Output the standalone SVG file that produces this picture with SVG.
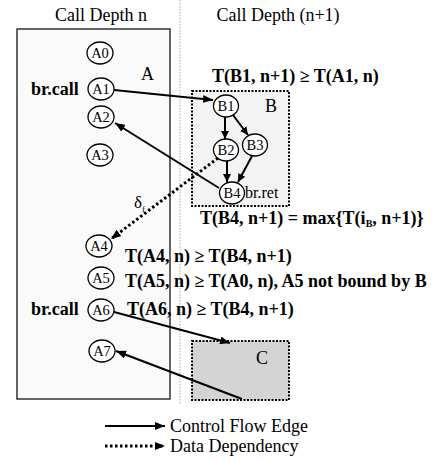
<svg xmlns="http://www.w3.org/2000/svg" width="439" height="461" viewBox="0 0 439 461">
<defs>
<marker id="ah" markerWidth="10" markerHeight="8" refX="10" refY="4" orient="auto" markerUnits="userSpaceOnUse">
<path d="M0,0 L10,4 L0,8 Z" fill="#000"/>
</marker>
<marker id="ahs" markerWidth="8" markerHeight="8" refX="8" refY="4" orient="auto" markerUnits="userSpaceOnUse">
<path d="M0,0 L8,4 L0,8 Z" fill="#000"/>
</marker>
</defs>
<style>
text,tspan{font-family:"Liberation Serif","Times New Roman",serif}
.lbl{font-size:18px}
.b{font-weight:bold;font-size:18px}
.n{font-size:14.5px;text-anchor:middle}
.nd{fill:#fff;stroke:#000;stroke-width:1.3}
.cf{stroke:#000;stroke-width:2;fill:none;marker-end:url(#ah)}
.cfs{stroke:#000;stroke-width:2;fill:none;marker-end:url(#ahs)}
.dd{stroke:#000;stroke-width:3;stroke-dasharray:2.5 2.5;fill:none;marker-end:url(#ah)}
</style>
<rect width="439" height="461" fill="#fff"/>
<g font-family="Liberation Serif, Times New Roman, serif" fill="#000">
<line x1="180" y1="0" x2="180" y2="405" stroke="#aaa" stroke-width="1" stroke-dasharray="1.5 1.5"/>
<text class="lbl" x="101" y="21" text-anchor="middle">Call Depth n</text>
<text class="lbl" x="278" y="21" text-anchor="middle">Call Depth (n+1)</text>

<g id="A">
<rect x="17" y="29" width="153" height="370" fill="#fafafa" stroke="#333" stroke-width="1.5"/>
<text x="141" y="80" font-size="18">A</text>
</g>
<g id="B">
<rect x="192" y="91" width="97" height="115" fill="#f3f3f3" stroke="#000" stroke-width="2" stroke-dasharray="2 1.5"/>
<text x="265" y="112" font-size="18">B</text>
</g>
<g id="C">
<rect x="192" y="341" width="97" height="59" fill="#d4d4d4" stroke="#000" stroke-width="2" stroke-dasharray="2 1.5"/>
<text x="256" y="364" font-size="18">C</text>
</g>

<g id="connectors">
<line class="cf" x1="114" y1="90" x2="213" y2="100"/>
<line class="cf" x1="219" y1="188" x2="115" y2="123"/>
<line class="cfs" x1="225" y1="117" x2="225" y2="139"/>
<line class="cfs" x1="233" y1="115" x2="248" y2="135"/>
<line class="cfs" x1="227" y1="161" x2="227" y2="182"/>
<line class="cfs" x1="252" y1="156" x2="238" y2="182"/>
<line class="dd" x1="218" y1="158" x2="111" y2="239"/>
<line class="cf" x1="114" y1="312" x2="230" y2="343"/>
<line class="cf" x1="242" y1="399" x2="116" y2="351"/>
</g>
<text x="134" y="208" font-size="17">δ<tspan font-size="9" dy="4">f</tspan></text>

<g id="A0"><ellipse class="nd" cx="100" cy="53" rx="13" ry="11"/><text class="n" x="100" y="58">A0</text></g>
<g id="A1"><ellipse class="nd" cx="101" cy="89" rx="13" ry="11"/><text class="n" x="101" y="94">A1</text></g>
<g id="A2"><ellipse class="nd" cx="101" cy="117" rx="13" ry="11"/><text class="n" x="101" y="122">A2</text></g>
<g id="A3"><ellipse class="nd" cx="100" cy="155" rx="13" ry="11"/><text class="n" x="100" y="160">A3</text></g>
<g id="A4"><ellipse class="nd" cx="99" cy="246" rx="13" ry="11"/><text class="n" x="99" y="251">A4</text></g>
<g id="A5"><ellipse class="nd" cx="101" cy="278" rx="13" ry="11"/><text class="n" x="101" y="283">A5</text></g>
<g id="A6"><ellipse class="nd" cx="101" cy="310" rx="13" ry="11"/><text class="n" x="101" y="315">A6</text></g>
<g id="A7"><ellipse class="nd" cx="102" cy="351" rx="13" ry="11"/><text class="n" x="102" y="356">A7</text></g>

<g id="B1"><ellipse class="nd" cx="226" cy="106" rx="12.5" ry="11"/><text class="n" x="226" y="111">B1</text></g>
<g id="B2"><ellipse class="nd" cx="226" cy="150" rx="12.5" ry="11"/><text class="n" x="226" y="155">B2</text></g>
<g id="B3"><ellipse class="nd" cx="255" cy="145" rx="12.5" ry="11"/><text class="n" x="255" y="150">B3</text></g>
<g id="B4"><ellipse class="nd" cx="232" cy="193" rx="12.5" ry="11"/><text class="n" x="232" y="198">B4</text></g>
<text x="245" y="198" font-size="16">br.ret</text>

<text class="b" x="31" y="95">br.call</text>
<text class="b" x="31" y="315">br.call</text>

<text class="b" x="212" y="82">T(B1, n+1) ≥ T(A1, n)</text>
<text class="b" x="200" y="224">T(B4, n+1) = max{T(i<tspan font-size="10" dy="3">B</tspan><tspan dy="-3">, n+1)}</tspan></text>
<text class="b" x="125" y="262">T(A4, n) ≥ T(B4, n+1)</text>
<text class="b" x="125" y="287">T(A5, n) ≥ T(A0, n), A5 not bound by B</text>
<text class="b" x="127" y="315">T(A6, n) ≥ T(B4, n+1)</text>

<g id="legend">
<line class="cf" x1="105" y1="426" x2="165" y2="426" stroke-width="1.5"/>
<text class="lbl" x="170" y="432">Control Flow Edge</text>
<line class="dd" x1="105" y1="446" x2="165" y2="446"/>
<text class="lbl" x="170" y="452">Data Dependency</text>
</g>
</g>
</svg>
